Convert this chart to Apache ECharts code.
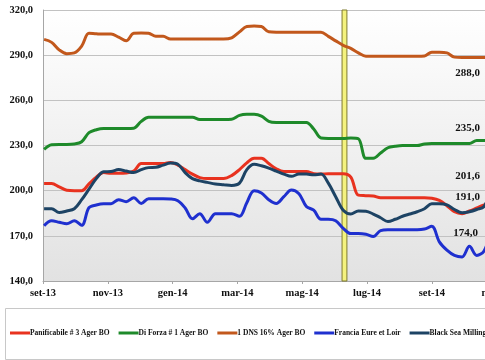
<!DOCTYPE html>
<html><head><meta charset="utf-8">
<script src="https://cdn.jsdelivr.net/npm/echarts@6/dist/echarts.min.js"></script>
<style>html,body{margin:0;padding:0;background:#fff}#c{width:485px;height:360px}</style>
</head><body><div id="c"></div>
<script>
// Weekly observations, starting Monday 2013-09-02
const startDate = [2013, 8, 2];
const seriesNames = ['Panificabile # 3 Ager BO', 'Di Forza # 1 Ager BO', '1 DNS 16% Ager BO', 'Francia Eure et Loir', 'Black Sea Milling Wheat'];
const seriesColors = ['#E8321F', '#1E8A2A', '#C2581C', '#1F30CF', '#1D4364'];
const panificabile = [204.7,204.7,202.5,200.3,200,200,204.5,209,212,211.5,211.5,211.7,213,218,218,218,218,218.7,217,214,211,208.7,208,208,208,210,214,218.5,221.5,221.5,218,214.5,212.7,212.7,212.7,212.7,211.3,211,211.3,211.3,211.3,209,197,196.7,196.5,195.3,195.3,195.3,195.3,195.3,195.3,195.3,195,193.5,190,186,184.7,186.5,188.5,190.5,191.0];
const diForza = [227.5,230.5,230.7,230.7,231,232.5,238.5,240.5,241.3,241.3,241.3,241.3,241.5,246,248.7,248.7,248.7,248.7,248.7,248.7,248.7,247.3,247.3,247.3,247.3,247.5,250,250.7,250.7,249.5,246,245.3,245.3,245.3,245.3,245.3,241,235,234.7,234.7,234.7,235,234.5,221.5,221.5,225,228.5,229.5,230,230,230,231,231.3,231.3,231.3,231.3,231.3,231.3,233.3,233.3,235.0];
const dns16 = [300.5,298.5,293.5,291,291.5,296,304.5,304.2,304,304,302,299.5,304.5,304.7,304.5,302.5,302.5,300.7,300.7,300.7,300.7,300.7,300.7,300.7,300.7,301.5,305.5,309,309.3,309,305.5,305.3,305.3,305.3,305.3,305.3,305.3,305.3,302.5,299.5,296.5,294.5,291.5,289.3,289.3,289.3,289.3,289.3,289.3,289.3,289.3,289.5,292,292,291.5,288.7,288.5,288.5,288.5,288.5,288.0];
const francia = [176.7,180,179,178,180,177,188.7,190.5,191.3,191.3,194,192.7,195.3,191.5,194.7,194.7,194.7,194.5,193.3,188.5,181.3,184.7,179,184.7,184.7,184.7,183,192,200,198.5,194,191.5,196,200.5,198,189.5,187,181,181,180,175,171.5,171.5,171,169.5,173.5,174,174,174,174,174,174.5,176.3,166,160.5,157,156,163,157,160,174.0];
const blackSea = [188,188,185.5,186.5,188,194,201,208,212.5,212.7,214,213,212,214,215.3,215.5,217,218.3,217.5,212,208,206.5,205.5,204.5,204,203.5,205,214,217.5,216.5,215,213,211,209.5,211,211,210.5,211,205,196,187,184.5,186.5,186.3,184.5,182,179.5,181,183,184.5,186,188,191.3,191.3,190.5,187.5,185.3,186,187.5,189.5,201.6];
const xTickLabels = ['set-13','nov-13','gen-14','mar-14','mag-14','lug-14','set-14','nov-14'];
const yTicks = [140,170,200,230,260,290,320];
const bandRange = [9.23, 9.38]; // highlighted week (months since set-13)

function monthPos(d){
  const y=d.getUTCFullYear(), m=d.getUTCMonth(), day=d.getUTCDate();
  const dim = new Date(Date.UTC(y, m+1, 0)).getUTCDate();
  return (y-2013)*12 + (m-8) + (day-1)/dim;
}
const weekPos = panificabile.map((_, i) => monthPos(new Date(Date.UTC(startDate[0], startDate[1], startDate[2] + 7*i))));

const allValues = [panificabile, diForza, dns16, francia, blackSea];
const labelOffsets = [[-44,-7.5],[-44,-9.5],[-44,15],[-46,3],[-44,-12.6]];
const serif = 'Liberation Serif';
const fmt = v => v.toFixed(1).replace('.', ',');

const series = allValues.map((vals, k) => ({
  name: seriesNames[k],
  type: 'line',
  data: vals.map((v, i) => [weekPos[i], v]),
  smooth: 0.35,
  symbol: 'none',
  lineStyle: {width: 3, color: seriesColors[k]},
  itemStyle: {color: seriesColors[k]},
  endLabel: {show: true, formatter: p => fmt(p.value[1]), offset: labelOffsets[k],
    color: '#111', fontFamily: serif, fontWeight: 'bold', fontSize: 11},
  z: 3
}));
series[0].markArea = {
  silent: true,
  itemStyle: {color: '#F4F27E', borderColor: '#7E7A2E', borderWidth: 1},
  data: [[{xAxis: bandRange[0]}, {xAxis: bandRange[1]}]]
};

const chart = echarts.init(document.getElementById('c'), null, {renderer: 'canvas'});
chart.setOption({
  animation: false,
  backgroundColor: '#fff',
  graphic: [{type: 'rect', left: 5, top: 308, shape: {width: 492, height: 51},
    style: {fill: '#fff', stroke: '#c8c8c8', lineWidth: 1}, z: -1}],
  grid: {left: 43, top: 10, bottom: 79, right: -44, show: true, borderWidth: 0,
    outerBoundsMode: 'none', containLabel: false,
    backgroundColor: new echarts.graphic.LinearGradient(0,0,0,1,[{offset:0,color:'#ffffff'},{offset:1,color:'#e2e2e2'}])},
  legend: {
    data: seriesNames, left: 10, top: 329, width: 800, itemGap: 9, itemWidth: 20, itemHeight: 3,
    icon: 'rect', padding: 0,
    textStyle: {fontFamily: serif, fontWeight: 'bold', fontSize: 7.5, color: '#111', padding: [0,0,0,-5]}
  },
  xAxis: {
    type: 'value', min: 0, max: 15, interval: 2,
    axisLine: {show: true, lineStyle: {color: '#a6a6a6', width: 1}},
    axisTick: {show: true, length: 3, lineStyle: {color: '#a6a6a6'}},
    splitLine: {show: false},
    axisLabel: {formatter: v => xTickLabels[v/2] || '', margin: 7,
      fontFamily: serif, fontWeight: 'bold', fontSize: 10.5, color: '#111', showMaxLabel: false}
  },
  yAxis: {
    type: 'value', min: yTicks[0], max: yTicks[yTicks.length-1], interval: 30,
    axisLine: {show: true, lineStyle: {color: '#a6a6a6', width: 1}},
    axisTick: {show: false},
    splitLine: {show: true, lineStyle: {color: '#c2c2c2', width: 1}},
    axisLabel: {formatter: v => fmt(v), margin: 10,
      fontFamily: serif, fontWeight: 'bold', fontSize: 10.5, color: '#111'}
  },
  series: series
});
</script></body></html>
